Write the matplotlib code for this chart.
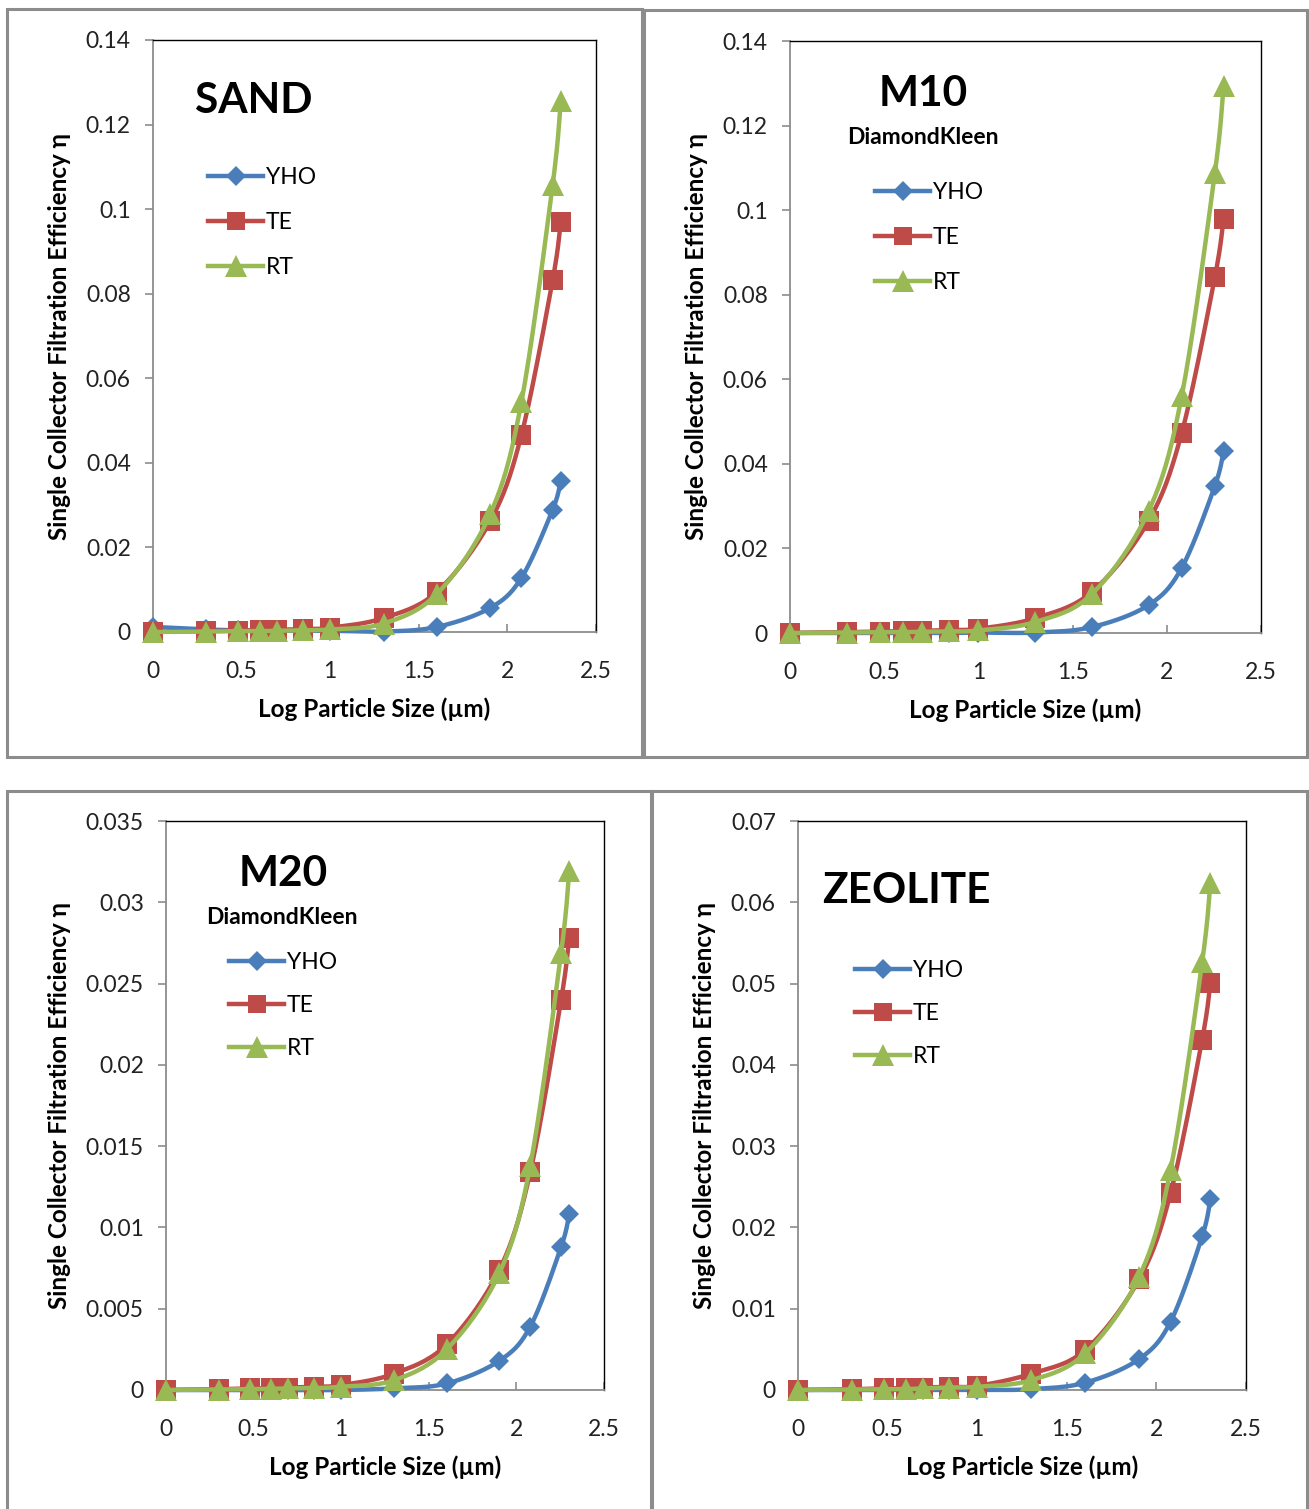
import numpy as np
import matplotlib
matplotlib.use("Agg")
import matplotlib.pyplot as plt
from matplotlib.patches import Rectangle
from matplotlib.lines import Line2D
from matplotlib.ticker import FuncFormatter, MultipleLocator

plt.rcParams['font.family'] = ['Lato', 'DejaVu Sans']

# particle sizes (um) -> log10
sizes_um = [1, 2, 3, 4, 5, 7, 10, 20, 40, 80, 120, 180, 200]
log_size = np.log10(sizes_um)

series_names = ["YHO", "TE", "RT"]

sand_yho = [0.0012, 0.0006, 0.0004, 0.0003, 0.0003, 0.0003, 0.0003, 0.0001, 0.0012, 0.0057, 0.0128, 0.0289, 0.0357]
sand_te = [0.0, 0.0002, 0.0003, 0.0004, 0.0005, 0.0007, 0.0010, 0.0033, 0.0095, 0.0262, 0.0466, 0.0832, 0.0970]
sand_rt = [0.0, 0.0001, 0.0002, 0.0002, 0.0003, 0.0004, 0.0006, 0.0020, 0.0090, 0.0279, 0.0544, 0.1057, 0.1256]

m10_yho = [0.0, 0.0, 0.0, 0.0, 0.0, 0.0, 0.0001, 0.0001, 0.0014, 0.0066, 0.0154, 0.0348, 0.0430]
m10_te = [0.0, 0.0002, 0.0003, 0.0004, 0.0005, 0.0007, 0.0010, 0.0035, 0.0097, 0.0265, 0.0473, 0.0842, 0.0979]
m10_rt = [0.0, 0.0001, 0.0002, 0.0002, 0.0003, 0.0004, 0.0006, 0.0026, 0.0092, 0.0288, 0.0560, 0.1088, 0.1293]

m20_yho = [0.0, 0.0, 0.0, 0.0, 0.0, 0.0, 0.0, 0.0001, 0.0004, 0.0018, 0.0039, 0.0088, 0.0108]
m20_te = [0.0, 0.00005, 0.0001, 0.0001, 0.00015, 0.0002, 0.0003, 0.0010, 0.0028, 0.0074, 0.0134, 0.0240, 0.0278]
m20_rt = [0.0, 0.00003, 0.00005, 0.00007, 0.0001, 0.00012, 0.0002, 0.0006, 0.0025, 0.0072, 0.0138, 0.0269, 0.0319]

zeo_yho = [0.0, 0.0, 0.0, 0.0, 0.0, 0.0, 0.0, 0.0001, 0.0009, 0.0038, 0.0084, 0.0189, 0.0235]
zeo_te = [0.0, 0.0001, 0.0002, 0.0002, 0.0003, 0.0004, 0.0005, 0.0020, 0.0049, 0.0136, 0.0242, 0.0431, 0.0501]
zeo_rt = [0.0, 0.00005, 0.0001, 0.0001, 0.0002, 0.0003, 0.0004, 0.0012, 0.0045, 0.0139, 0.0271, 0.0526, 0.0624]

panel_titles = ["SAND", "M10", "M20", "ZEOLITE"]
panel_subtitles = ["", "DiamondKleen", "DiamondKleen", ""]
panel_ymax = [0.14, 0.14, 0.035, 0.07]
panel_ystep = [0.02, 0.02, 0.005, 0.01]
panel_data = [
    [sand_yho, sand_te, sand_rt],
    [m10_yho, m10_te, m10_rt],
    [m20_yho, m20_te, m20_rt],
    [zeo_yho, zeo_te, zeo_rt],
]

colors = ["#4A7EBB", "#BE4B48", "#98B954"]
markers = ["D", "s", "^"]
msizes = [10.5, 14, 16]

W, H = 1309, 1509
fig = plt.figure(figsize=(W / 100, H / 100), dpi=100)


def fx(px):
    return px / W


def fy(py):
    return 1 - py / H


# panel frames (left, top, right, bottom) in px
frames = [(7, 9, 642, 757), (644, 10, 1307, 757), (7, 791, 651, 1512), (652, 791, 1307, 1512)]
for (l, t, r, b) in frames:
    fig.add_artist(Rectangle((fx(l), fy(b)), fx(r - l), (b - t) / H, transform=fig.transFigure,
                             fill=False, edgecolor="#8C8C8C", linewidth=2.2))

# axes boxes (left, top, right, bottom) px
axboxes = [(153, 40, 596, 632), (790, 41, 1261, 633), (166, 821, 604, 1390), (798, 821, 1246, 1390)]
# title positions (center x, center y) px
title_pos = [(254, 101), (923, 94), (283, 874), (906, 891)]
sub_pos = [None, (923, 137), (282, 918), None]
# legend anchor (left x of handle, y of first row) px
leg_pos = [(208, 175), (875, 190), (229, 960), (855, 968)]
ylabel_x = [60, 697, 60, 705]
leg_gap = [45, 45, 43, 43]


def smooth(x, y, n=20):
    x = np.asarray(x, float)
    y = np.asarray(y, float)
    px = np.concatenate([[x[0]], x, [x[-1]]])
    py = np.concatenate([[y[0]], y, [y[-1]]])
    xs, ys = [], []
    t = np.linspace(0, 1, n)
    for i in range(1, len(px) - 2):
        p0x, p1x, p2x, p3x = px[i - 1], px[i], px[i + 1], px[i + 2]
        p0y, p1y, p2y, p3y = py[i - 1], py[i], py[i + 1], py[i + 2]
        c1x = p1x + (p2x - p0x) / 6
        c1y = p1y + (p2y - p0y) / 6
        c2x = p2x - (p3x - p1x) / 6
        c2y = p2y - (p3y - p1y) / 6
        bx = (1 - t) ** 3 * p1x + 3 * (1 - t) ** 2 * t * c1x + 3 * (1 - t) * t ** 2 * c2x + t ** 3 * p2x
        by = (1 - t) ** 3 * p1y + 3 * (1 - t) ** 2 * t * c1y + 3 * (1 - t) * t ** 2 * c2y + t ** 3 * p2y
        xs.extend(bx)
        ys.extend(by)
    return np.array(xs), np.array(ys)


def fmt(v, pos):
    return "%g" % round(v, 6)


for k in range(4):
    l, t, r, b = axboxes[k]
    ax = fig.add_axes([fx(l), fy(b), (r - l) / W, (b - t) / H])
    ymax = panel_ymax[k]
    ax.set_xlim(0, 2.5)
    ax.set_ylim(0, ymax)
    ax.xaxis.set_major_locator(MultipleLocator(0.5))
    ax.yaxis.set_major_locator(MultipleLocator(panel_ystep[k]))
    ax.xaxis.set_major_formatter(FuncFormatter(fmt))
    ax.yaxis.set_major_formatter(FuncFormatter(fmt))
    for sp in ["left", "bottom"]:
        ax.spines[sp].set_color("#8C8C8C")
        ax.spines[sp].set_linewidth(1.3)
    for sp in ["top", "right"]:
        ax.spines[sp].set_color("#000000")
        ax.spines[sp].set_linewidth(1.0)
    ax.tick_params(axis="x", direction="in", length=6, width=1.2, color="#8C8C8C",
                   labelsize=16.5, pad=21, labelcolor="#222222")
    ax.tick_params(axis="y", direction="out", length=6, width=1.2, color="#8C8C8C",
                   labelsize=16.5, pad=10, labelcolor="#222222")
    ax.set_xlabel("Log Particle Size (µm)", fontsize=17.5, fontweight="bold", labelpad=11)

    for j in range(3):
        yv = panel_data[k][j]
        sx, sy = smooth(log_size, yv)
        ax.plot(sx, sy, color=colors[j], lw=3.2, solid_capstyle="round", zorder=3 + j, clip_on=False)
        ax.plot(log_size, yv, linestyle="none", marker=markers[j], markersize=msizes[j],
                color=colors[j], markeredgewidth=0, zorder=3 + j, clip_on=False)

    # y label
    fig.text(fx(ylabel_x[k]), fy((t + b) / 2),
             "Single Collector Filtration Efficiency η", rotation=90,
             fontsize=17.5, fontweight="bold", ha="center", va="center")

    # title
    tx, ty = title_pos[k]
    fig.text(fx(tx), fy(ty), panel_titles[k], fontsize=30.5, fontweight="bold",
             ha="center", va="center")
    if sub_pos[k] is not None:
        sx_, sy_ = sub_pos[k]
        fig.text(fx(sx_), fy(sy_), panel_subtitles[k], fontsize=16.5, fontweight="bold",
                 ha="center", va="center")

    # legend
    leg_handles = [Line2D([], [], color=colors[j], lw=3.2, marker=markers[j],
                          markersize=msizes[j] * 0.95, markeredgewidth=0) for j in range(3)]
    lx, ly = leg_pos[k]
    ax.legend(leg_handles, series_names, loc="upper left", frameon=False,
              bbox_to_anchor=(fx(lx), fy(ly - 8)), bbox_transform=fig.transFigure,
              fontsize=16.5, handlelength=2.4, handletextpad=0.12,
              labelspacing=(leg_gap[k] - 21) / 22.9, borderpad=0, borderaxespad=0)

fig.savefig("out.png", dpi=100)
